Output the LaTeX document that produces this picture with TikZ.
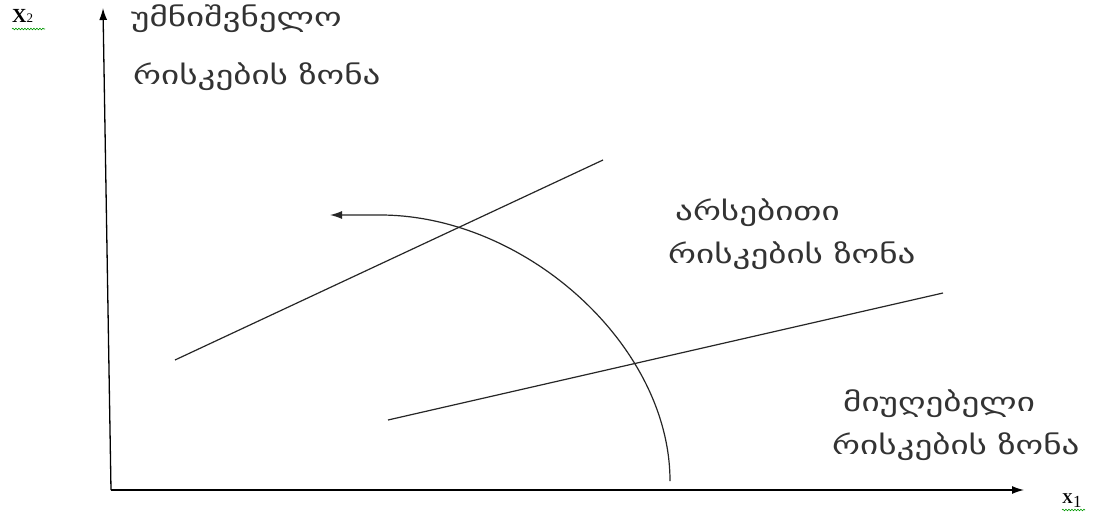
\documentclass[tikz,border=0pt]{standalone}
\usepackage{fontspec}
\setmainfont{Liberation Serif}
\newfontfamily\geo[Script=Georgian,FakeStretch=1.35]{DejaVu Sans}
\usetikzlibrary{arrows.meta,decorations.pathmorphing}
\tikzset{
  ln/.style={line width=1.2pt, black!85},
  ax/.style={line width=1.3pt, black, -{Latex[length=12pt,width=8pt]}},
  geotext/.style={anchor=west, inner sep=0pt, font=\geo\fontsize{26}{30}\selectfont, text=black!80},
  axlabel/.style={inner sep=0pt, anchor=base west},
  squig/.style={green!60!black, line width=0.6pt, decorate, decoration={snake, amplitude=0.8pt, segment length=3pt}}
}
\begin{document}
\begin{tikzpicture}[x=1pt,y=-1pt]
\useasboundingbox[fill=white] (0,0) rectangle (1106,514);
\coordinate (O) at (111,490);
\coordinate (Ytop) at (103,8);
\coordinate (Xend) at (1024,490);
\draw[ax] (O) -- (Ytop);
\draw[ax] (O) -- (Xend);
% region boundary lines
\coordinate (a1) at (175,360);
\coordinate (a2) at (603,160);
\coordinate (b1) at (388,420);
\coordinate (b2) at (943,293);
\draw[ln] (a1) -- (a2);
\draw[ln] (b1) -- (b2);
% curved arrow
\coordinate (c0) at (670,481);
\coordinate (c1) at (380,215);
\coordinate (c2) at (330,215);
\draw[ln, -{Latex[length=12pt,width=8pt]}] (c0) .. controls (670,345) and (525,215) .. (c1) -- (c2);
% axis labels
\node[axlabel] (x2) at (12,23) {\fontsize{20}{22}\selectfont\bfseries X\fontsize{13}{14}\mdseries\selectfont 2};
\draw[squig] (12,29) -- (45,29);
\node[axlabel] (x1) at (1062,503) {\fontsize{15}{16}\selectfont\bfseries X\raisebox{-4pt}{\fontsize{17}{17}\mdseries\selectfont 1}};
\draw[squig] (1062,510) -- (1085,510);
% zone labels
\node[geotext] (t1) at (131,19) {უმნიშვნელო};
\node[geotext] (t2) at (133,77) {რისკების ზონა};
\node[geotext] (t3) at (675,213) {არსებითი};
\node[geotext] (t4) at (668,256) {რისკების ზონა};
\node[geotext] (t5) at (843,404) {მიუღებელი};
\node[geotext] (t6) at (832,447) {რისკების ზონა};
\end{tikzpicture}
\end{document}
